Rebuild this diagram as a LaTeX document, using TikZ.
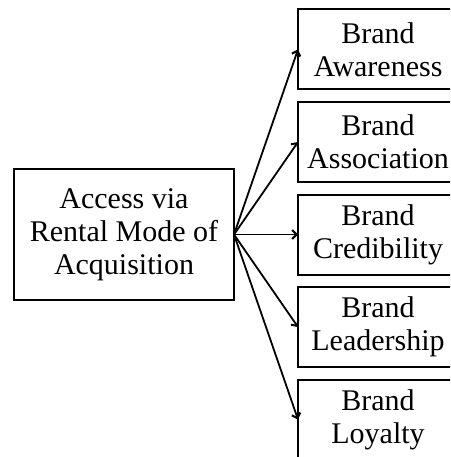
\documentclass[tikz,border=0pt]{standalone}
\usepackage{fontspec}
\setmainfont{Liberation Serif}
\usetikzlibrary{positioning, arrows.meta}

\begin{document}
\begin{tikzpicture}[
    x=1pt, y=-1pt,
    node distance=12.5pt,
    box/.style={rectangle, draw, line width=2pt, align=center,
        inner sep=0pt, outer sep=0pt,
        font=\fontsize{30}{33}\selectfont},
    source/.style={box, minimum width=220pt, minimum height=131pt},
    brand/.style={box, minimum width=160pt, minimum height=80pt},
    link/.style={-{Straight Barb[length=4.5pt, width=9pt, line width=2pt]}, line width=1.8pt}
]

% Page area
\path[use as bounding box] (0,0) rectangle (450,457);
\clip (0,0) rectangle (450,457);

% Source node
\node[source] (access) at (124,234.5) {Access via\\Rental Mode of\\Acquisition};

% Brand outcomes
\node[brand, right=64pt of access] (cred) {Brand\\Credibility};
\node[brand, above=of cred] (assoc) {Brand\\Association};
\node[brand, above=of assoc] (aware) {Brand\\Awareness};
\node[brand, below=of cred] (lead) {Brand\\Leadership};
\node[brand, below=of lead] (loyal) {Brand\\Loyalty};

% Edges
\foreach \b in {aware, assoc, cred, lead, loyal}
    \draw[link] (access.east) -- (\b.west);

\end{tikzpicture}
\end{document}
